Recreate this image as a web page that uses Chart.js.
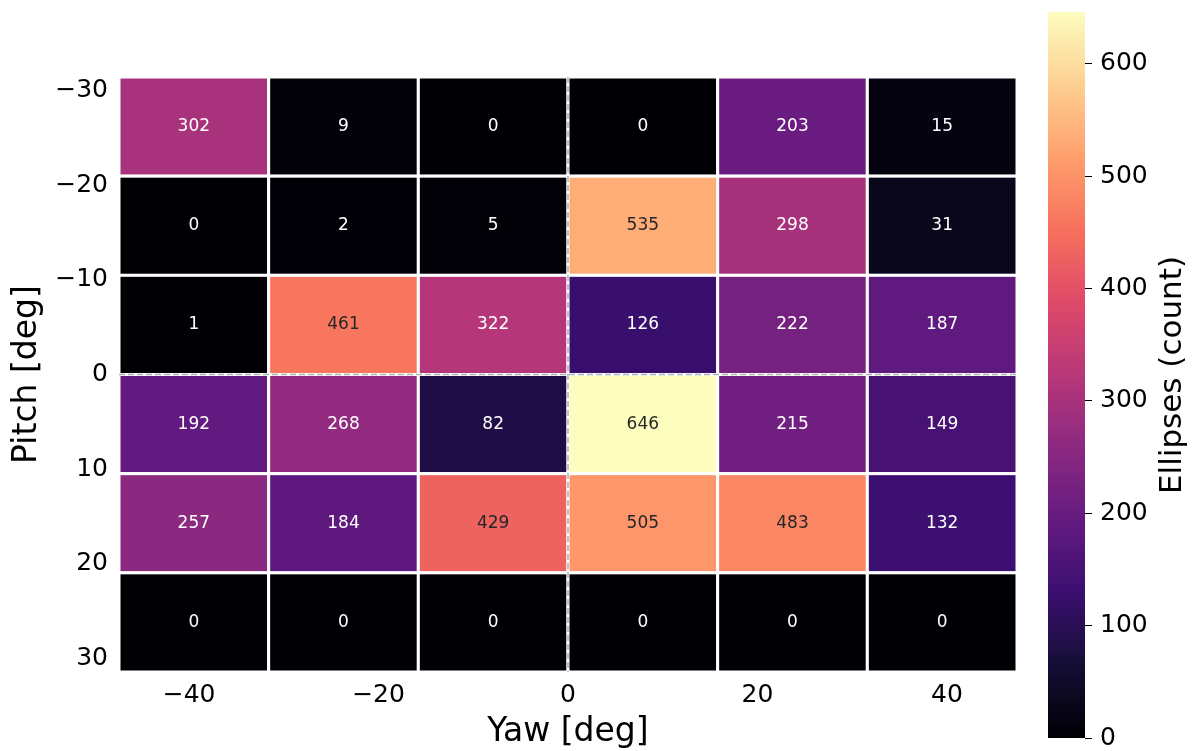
<!DOCTYPE html>
<html>
<head>
<meta charset="utf-8">
<script src="https://cdn.jsdelivr.net/npm/chart.js@4/dist/chart.umd.min.js"></script>
<style>
  html, body { margin: 0; padding: 0; background: #ffffff; }
  #wrap { position: relative; width: 1194px; height: 751px; }
  #wrap canvas { position: absolute; left: 0; top: 0; }
</style>
</head>
<body>
<div id="wrap">
  <canvas id="main" width="1194" height="751"></canvas>
  <canvas id="cbar" width="1194" height="751"></canvas>
</div>
<script>
// ---- data ----
const pitchBins = [-30, -20, -10, 0, 10, 20];          // row labels (top to bottom)
const yawBins = [-40, -24, -8, 8, 24, 40];             // column labels (left to right)
const counts = [
  [302,   9,   0,   0, 203,  15],
  [  0,   2,   5, 535, 298,  31],
  [  1, 461, 322, 126, 222, 187],
  [192, 268,  82, 646, 215, 149],
  [257, 184, 429, 505, 483, 132],
  [  0,   0,   0,   0,   0,   0]
];
const yawTicks = [-40, -20, 0, 20, 40];
const pitchTicks = [-30, -20, -10, 0, 10, 20, 30];
const colorbarTicks = [0, 100, 200, 300, 400, 500, 600];
const yawExtent = [-47.4, 47.4];
const pitchExtent = [-31.4, 31.4];
const vMax = 646;
const colorbarLabel = 'Ellipses (count)';

// magma colormap stops
const magma = ['#000004','#140e36','#3b0f70','#641a80','#8c2981','#b73779','#de4968','#f7705c','#fe9f6d','#fecf92','#fcfdbf'];
function hexToRgb(h){ return [parseInt(h.slice(1,3),16), parseInt(h.slice(3,5),16), parseInt(h.slice(5,7),16)]; }
function magmaColor(t){
  t = Math.max(0, Math.min(1, t));
  const p = t * (magma.length - 1);
  const i = Math.min(Math.floor(p), magma.length - 2);
  const f = p - i;
  const a = hexToRgb(magma[i]), b = hexToRgb(magma[i+1]);
  const c = a.map((v, k) => Math.round(v + (b[k] - v) * f));
  return 'rgb(' + c.join(',') + ')';
}

// bin edges derived from the axis extents
const nCols = yawBins.length, nRows = pitchBins.length;
const yawEdges = Array.from({length: nCols + 1}, (_, i) => yawExtent[0] + i * (yawExtent[1] - yawExtent[0]) / nCols);
const pitchEdges = Array.from({length: nRows + 1}, (_, i) => pitchExtent[0] + i * (pitchExtent[1] - pitchExtent[0]) / nRows);

const FONT = "'DejaVu Sans', sans-serif";
const cellPoints = [];
counts.forEach((row, r) => row.forEach((v, c) => {
  cellPoints.push({x: (yawEdges[c] + yawEdges[c+1]) / 2, y: (pitchEdges[r] + pitchEdges[r+1]) / 2, v: v, r: r, c: c});
}));

const heatmapPlugin = {
  id: 'heatmap',
  beforeDatasetsDraw(chart) {
    const {ctx, scales: {x, y}} = chart;
    ctx.save();
    counts.forEach((row, r) => row.forEach((v, c) => {
      const x0 = x.getPixelForValue(yawEdges[c]), x1 = x.getPixelForValue(yawEdges[c+1]);
      const y0 = y.getPixelForValue(pitchEdges[r]), y1 = y.getPixelForValue(pitchEdges[r+1]);
      ctx.fillStyle = magmaColor(v / vMax);
      ctx.fillRect(x0, y0, x1 - x0, y1 - y0);
      ctx.strokeStyle = '#ffffff';
      ctx.lineWidth = 3;
      ctx.strokeRect(x0, y0, x1 - x0, y1 - y0);
    }));
    // dashed zero lines
    ctx.setLineDash([6, 3]);
    ctx.strokeStyle = '#b0b0b0';
    ctx.lineWidth = 1.5;
    const zx = x.getPixelForValue(0), zy = y.getPixelForValue(0);
    ctx.beginPath();
    ctx.moveTo(zx, chart.chartArea.top); ctx.lineTo(zx, chart.chartArea.bottom);
    ctx.moveTo(chart.chartArea.left, zy); ctx.lineTo(chart.chartArea.right, zy);
    ctx.stroke();
    ctx.setLineDash([]);
    // annotations
    ctx.font = '17px ' + FONT;
    ctx.textAlign = 'center';
    ctx.textBaseline = 'middle';
    counts.forEach((row, r) => row.forEach((v, c) => {
      const cx = x.getPixelForValue((yawEdges[c] + yawEdges[c+1]) / 2);
      const cy = y.getPixelForValue((pitchEdges[r] + pitchEdges[r+1]) / 2);
      ctx.fillStyle = v > vMax / 2 ? '#262626' : '#ffffff';
      ctx.fillText(String(v), cx, cy);
    }));
    ctx.restore();
  }
};

new Chart(document.getElementById('main'), {
  type: 'scatter',
  data: { datasets: [{ data: cellPoints, pointRadius: 0, pointHoverRadius: 0 }] },
  options: {
    responsive: false,
    animation: false,
    devicePixelRatio: 1,
    layout: { padding: { left: 0, top: 77, right: 177, bottom: 0 } },
    plugins: { legend: { display: false }, tooltip: { enabled: false } },
    scales: {
      x: {
        type: 'linear', min: yawExtent[0], max: yawExtent[1],
        afterBuildTicks: s => { s.ticks = yawTicks.map(v => ({value: v})); },
        afterFit: s => { s.height = 79; },
        grid: { display: false, drawTicks: false },
        border: { display: false },
        ticks: { color: '#000', font: { family: FONT, size: 25 }, padding: 8, maxRotation: 0,
                 callback: v => String(v).replace('-', '\u2212') },
        title: { display: true, text: 'Yaw [deg]', color: '#000', font: { family: FONT, size: 33, lineHeight: 1.1 }, padding: { top: 0, bottom: 0 } }
      },
      y: {
        type: 'linear', reverse: true, min: pitchExtent[0], max: pitchExtent[1],
        afterBuildTicks: s => { s.ticks = pitchTicks.map(v => ({value: v})); },
        afterFit: s => { s.width = 119; },
        grid: { display: false, drawTicks: false },
        border: { display: false },
        ticks: { color: '#000', font: { family: FONT, size: 25 }, padding: 11,
                 callback: v => String(v).replace('-', '\u2212') },
        title: { display: true, text: 'Pitch [deg]', color: '#000', font: { family: FONT, size: 33 }, padding: { top: 8, bottom: 0 } }
      }
    }
  },
  plugins: [heatmapPlugin]
});

const colorbarPlugin = {
  id: 'colorbar',
  beforeDatasetsDraw(chart) {
    const {ctx, chartArea: a, scales: {y}} = chart;
    const g = ctx.createLinearGradient(0, y.getPixelForValue(0), 0, y.getPixelForValue(vMax));
    magma.forEach((col, i) => g.addColorStop(i / (magma.length - 1), col));
    ctx.save();
    ctx.fillStyle = g;
    ctx.fillRect(a.left, a.top, a.right - a.left, a.bottom - a.top);
    ctx.restore();
  },
  afterDraw(chart) {
    const {ctx, chartArea: a} = chart;
    ctx.save();
    ctx.translate(1173, (a.top + a.bottom) / 2);
    ctx.rotate(-Math.PI / 2);
    ctx.font = '31px ' + FONT;
    ctx.fillStyle = '#000';
    ctx.textAlign = 'center';
    ctx.textBaseline = 'middle';
    ctx.fillText(colorbarLabel, 0, 0);
    ctx.restore();
  }
};

new Chart(document.getElementById('cbar'), {
  type: 'scatter',
  data: { datasets: [{ data: [], pointRadius: 0 }] },
  options: {
    responsive: false,
    animation: false,
    devicePixelRatio: 1,
    layout: { padding: { left: 1048, top: 12, right: 0, bottom: 13 } },
    plugins: { legend: { display: false }, tooltip: { enabled: false } },
    scales: {
      x: { display: false, min: 0, max: 1 },
      y: {
        type: 'linear', position: 'right', min: 0, max: vMax,
        afterBuildTicks: s => { s.ticks = colorbarTicks.map(v => ({value: v})); },
        afterFit: s => { s.width = 109; s.paddingTop = 0; s.paddingBottom = 0; },
        grid: { display: true, drawOnChartArea: false, drawTicks: true, tickLength: 7, color: '#000', lineWidth: 1 },
        border: { display: false },
        ticks: { color: '#000', font: { family: FONT, size: 25 }, padding: 8 }
      }
    }
  },
  plugins: [colorbarPlugin]
});
</script>
</body>
</html>
